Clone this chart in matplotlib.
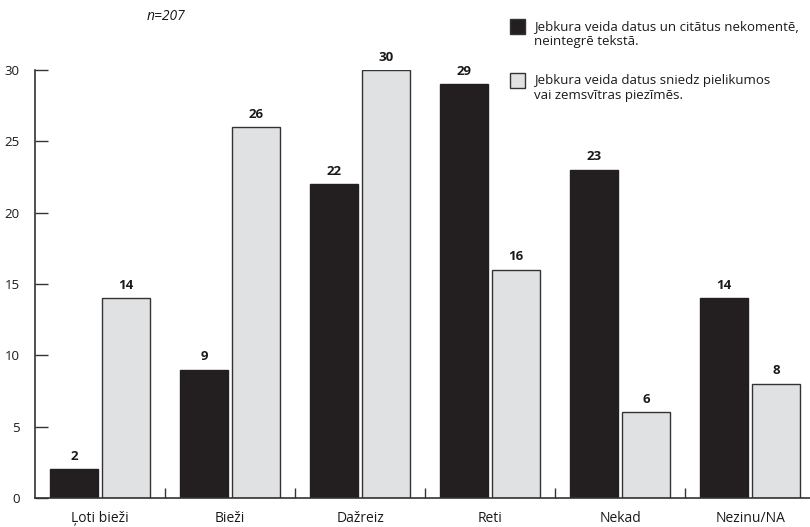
import numpy as np
import matplotlib.pyplot as plt
from matplotlib.patches import Rectangle

plt.rcParams['font.family'] = ['Open Sans', 'DejaVu Sans']

categories = ['Ļoti bieži', 'Bieži', 'Dažreiz', 'Reti', 'Nekad', 'Nezinu/NA']
no_comment = [2, 9, 22, 29, 23, 14]
appendix = [14, 26, 30, 16, 6, 8]
series_labels = ['Jebkura veida datus un citātus nekomentē,\nneintegrē tekstā.',
                 'Jebkura veida datus sniedz pielikumos\nvai zemsvītras piezīmēs.']

dark = '#231f20'
light = '#e0e1e3'
edge = '#333333'

W, H = 810, 527
fig = plt.figure(figsize=(W / 100, H / 100), dpi=100)
ax = fig.add_axes([35 / W, 1 - 498 / H, 1 - 35 / W, (498 - 70) / H])

x = np.arange(len(categories))
w = 0.365
b1 = ax.bar(x - 0.2, no_comment, w, color=dark, edgecolor=dark, linewidth=1)
b2 = ax.bar(x + 0.2, appendix, w, color=light, edgecolor=edge, linewidth=1)

# value labels above each bar
for bars in (b1, b2):
    for r in bars:
        ax.text(r.get_x() + r.get_width() / 2, r.get_height() + 0.45, f'{int(r.get_height())}',
                ha='center', va='bottom', fontsize=9.5, fontweight='bold', color='#1a1a1a', clip_on=False)

ax.set_xlim(-0.5, 5.46)
ax.set_ylim(0, 30)
ax.set_yticks([0, 5, 10, 15, 20, 25, 30])
ax.set_xticks(x)
ax.set_xticklabels(categories, fontsize=10)
ax.set_xticks(np.arange(0.5, 5.0, 1.0), minor=True)
ax.tick_params(axis='x', which='major', length=0, pad=9, labelcolor='#1a1a1a')
ax.tick_params(axis='x', which='minor', direction='in', length=7, width=1, color=edge)
ax.tick_params(axis='y', direction='in', length=9, width=1, color=edge, pad=11, labelsize=9.5, labelcolor='#1a1a1a')

for s in ('top', 'right'):
    ax.spines[s].set_visible(False)
for s in ('left', 'bottom'):
    ax.spines[s].set_color(edge)
    ax.spines[s].set_linewidth(1.2)

fig.text(166 / W, 1 - 17 / H, 'n=207', ha='center', va='center', fontsize=10, style='italic', color='#1a1a1a')

# legend drawn by hand: square next to the first line of each label
for i, (lab, fc) in enumerate(zip(series_labels, [dark, light])):
    top = 19 + i * 54
    fig.patches.append(Rectangle((510 / W, 1 - (top + 15) / H), 15 / W, 15 / H, transform=fig.transFigure,
                                 facecolor=fc, edgecolor=edge, linewidth=1))
    fig.text(534 / W, 1 - (top + 1) / H, lab, ha='left', va='top', fontsize=9.5,
             linespacing=1.2, color='#1a1a1a')

fig.savefig('out.png', dpi=100)
